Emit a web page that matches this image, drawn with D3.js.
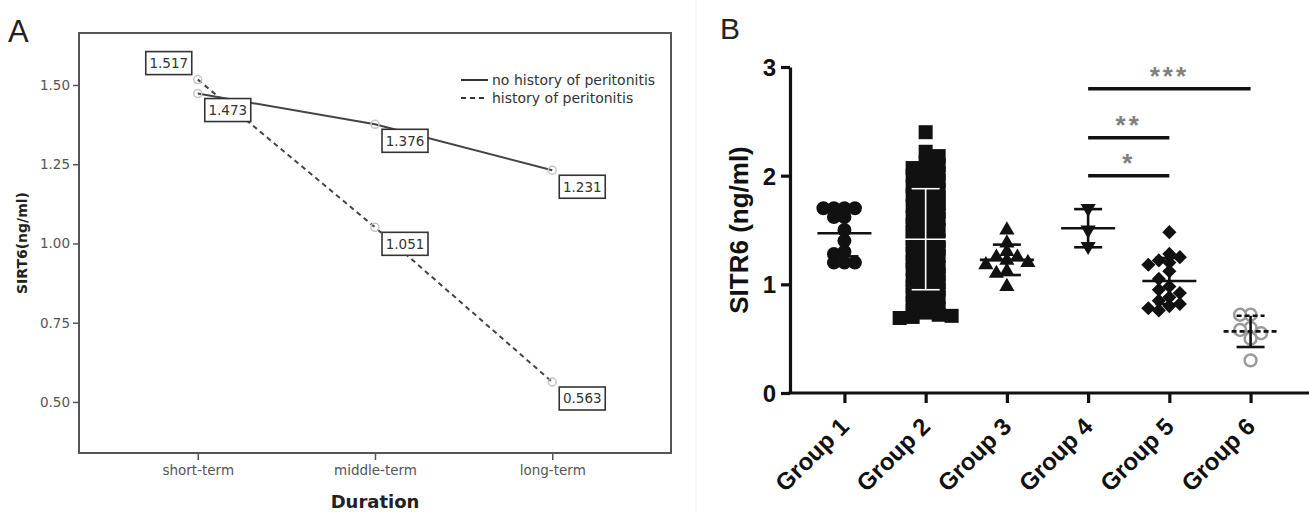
<!DOCTYPE html>
<html>
<head>
<meta charset="utf-8">
<script src="https://cdn.jsdelivr.net/npm/d3@7"></script>
<style>
  body { margin: 0; background: #fff; }
  svg { display: block; }
  .pa text { font-family: "DejaVu Sans", Verdana, sans-serif; }
  .pb text { font-family: Arial, "Liberation Sans", sans-serif; font-weight: bold; }
</style>
</head>
<body>
<svg id="chart" width="1309" height="512"></svg>
<script>
// Panel A: mean SIRT6 by dialysis duration
var durations = ["short-term", "middle-term", "long-term"];
var noHistory = [1.473, 1.376, 1.231];
var withHistory = [1.517, 1.051, 0.563];
var seriesNames = ["no history of peritonitis", "history of peritonitis"];
var ticksA = [0.50, 0.75, 1.00, 1.25, 1.50];

// Panel B: individual values per group
var groups = ["Group 1", "Group 2", "Group 3", "Group 4", "Group 5", "Group 6"];
var group1 = [1.70, 1.70, 1.70, 1.70, 1.62, 1.62, 1.50, 1.40, 1.30, 1.28, 1.20, 1.20, 1.20];
var group2 = [2.40, 2.22, 2.18, 2.12, 2.10, 2.07, 2.05, 2.02, 2.00, 1.98, 1.95, 1.92, 1.90,
  1.87, 1.84, 1.82, 1.80, 1.77, 1.74, 1.72, 1.70, 1.67, 1.64, 1.62, 1.60, 1.58, 1.55, 1.52,
  1.50, 1.48, 1.45, 1.42, 1.40, 1.38, 1.36, 1.33, 1.30, 1.28, 1.26, 1.24, 1.21, 1.18, 1.16,
  1.14, 1.12, 1.09, 1.06, 1.04, 1.02, 1.00, 0.98, 0.95, 0.92, 0.90, 0.88, 0.86, 0.83, 0.80,
  0.78, 0.76, 0.74, 0.72, 0.71, 0.70, 0.69];
var group3 = [1.50, 1.38, 1.30, 1.25, 1.25, 1.22, 1.20, 1.18, 1.12, 1.10, 0.98];
var group4 = [1.70, 1.50, 1.35];
var group5 = [1.48, 1.28, 1.25, 1.22, 1.20, 1.18, 1.12, 1.05, 0.98, 0.95, 0.92, 0.88, 0.85, 0.82, 0.80, 0.78, 0.76];
var group6 = [0.72, 0.72, 0.60, 0.58, 0.55, 0.50, 0.30];
var ticksB = [0, 1, 2, 3];

// significance brackets
var bracketFrom = ["Group 4", "Group 4", "Group 4"];
var bracketTo = ["Group 5", "Group 5", "Group 6"];
var bracketY = [2.0, 2.35, 2.8];
var bracketLabel = ["*", "**", "***"];

var svg = d3.select("#chart");

// faint seam between the two pictures
svg.append("line")
  .attr("x1", 696).attr("x2", 696).attr("y1", 0).attr("y2", 512)
  .attr("stroke", "#f0f0f0");

// ---------------- Panel A ----------------
var A = { left: 79, right: 671, top: 33, bottom: 453 };
var gA = svg.append("g").attr("class", "pa");

var xA = d3.scalePoint().domain(durations).range([A.left, A.right]).padding(0.67);
var yA = d3.scaleLinear().domain([0.339, 1.664]).range([A.bottom, A.top]);

gA.append("text").attr("x", 8).attr("y", 42)
  .style("font-family", "Arial, 'Liberation Sans', sans-serif")
  .attr("font-size", 31).attr("fill", "#222").text("A");

gA.append("rect")
  .attr("x", A.left).attr("y", A.top)
  .attr("width", A.right - A.left).attr("height", A.bottom - A.top)
  .attr("fill", "none").attr("stroke", "#555").attr("stroke-width", 2);

gA.append("g")
  .attr("transform", "translate(" + A.left + ",0)")
  .call(d3.axisLeft(yA).tickValues(ticksA).tickFormat(d3.format(".2f")).tickSize(6).tickPadding(3))
  .call(function(g) {
    g.select(".domain").remove();
    g.selectAll("line").attr("stroke", "#555").attr("stroke-width", 1.5);
    g.selectAll("text").attr("fill", "#555").attr("font-size", 13.5);
  });

gA.append("g")
  .attr("transform", "translate(0," + A.bottom + ")")
  .call(d3.axisBottom(xA).tickSize(7).tickPadding(5))
  .call(function(g) {
    g.select(".domain").remove();
    g.selectAll("line").attr("stroke", "#555").attr("stroke-width", 1.5);
    g.selectAll("text").attr("fill", "#555").attr("font-size", 13.5);
  });

gA.append("text")
  .attr("x", xA("middle-term")).attr("y", 508)
  .attr("text-anchor", "middle").attr("font-weight", "bold")
  .attr("font-size", 18).attr("fill", "#222").text("Duration");

gA.append("text")
  .attr("transform", "translate(27," + ((A.top + A.bottom) / 2) + ") rotate(-90)")
  .attr("text-anchor", "middle").attr("font-weight", "bold")
  .attr("font-size", 14).attr("fill", "#222").text("SIRT6(ng/ml)");

var seriesA = [
  { name: seriesNames[0], values: noHistory, dash: null },
  { name: seriesNames[1], values: withHistory, dash: "5,4" }
];

var lineA = d3.line()
  .x(function(d, i) { return xA(durations[i]); })
  .y(function(d) { return yA(d); });

seriesA.forEach(function(s) {
  gA.append("path")
    .attr("d", lineA(s.values))
    .attr("fill", "none").attr("stroke", "#444").attr("stroke-width", 2)
    .attr("stroke-dasharray", s.dash);
});

seriesA.forEach(function(s) {
  gA.selectAll(null).data(s.values).enter().append("circle")
    .attr("cx", function(d, i) { return xA(durations[i]); })
    .attr("cy", function(d) { return yA(d); })
    .attr("r", 4)
    .attr("fill", "none").attr("stroke", "#c4c4c4").attr("stroke-width", 1.5);
});

// value boxes; the upper of two close points gets its box above-left
var boxW = 46, boxH = 23;
seriesA.forEach(function(s, si) {
  var other = seriesA[1 - si].values;
  s.values.forEach(function(v, i) {
    var px = xA(durations[i]), py = yA(v);
    var flip = v > other[i] && v - other[i] < 0.1;
    var bx = flip ? px - 6 - boxW : px + 7;
    var by = flip ? py - 5 - boxH : py + 5;
    var lab = gA.append("g").attr("transform", "translate(" + bx + "," + by + ")");
    lab.append("rect").attr("width", boxW).attr("height", boxH)
      .attr("fill", "#fff").attr("stroke", "#333").attr("stroke-width", 1.6);
    lab.append("text").attr("x", boxW / 2).attr("y", boxH / 2).attr("dy", "0.36em")
      .attr("text-anchor", "middle").attr("font-size", 13.5).attr("fill", "#333")
      .text(d3.format(".3f")(v));
  });
});

var legend = gA.append("g").attr("transform", "translate(461,80)");
seriesA.forEach(function(s, i) {
  legend.append("line")
    .attr("x1", 0).attr("x2", 27).attr("y1", i * 18).attr("y2", i * 18)
    .attr("stroke", "#333").attr("stroke-width", 2).attr("stroke-dasharray", s.dash);
  legend.append("text")
    .attr("x", 31).attr("y", i * 18).attr("dy", "0.35em")
    .attr("font-size", 14).attr("fill", "#333").text(s.name);
});

// ---------------- Panel B ----------------
var B = { left: 790, right: 1309, top: 67, bottom: 393 };
var gB = svg.append("g").attr("class", "pb");

var xB = d3.scalePoint().domain(groups).range([B.left, 1305]).padding(0.67);
var yB = d3.scaleLinear().domain([0, 3]).range([B.bottom, B.top]);

gB.append("text").attr("x", 720).attr("y", 39)
  .style("font-weight", "normal")
  .attr("font-size", 30).attr("fill", "#222").text("B");

gB.append("g")
  .attr("transform", "translate(" + B.left + ",0)")
  .call(d3.axisLeft(yB).tickValues(ticksB).tickFormat(d3.format("d")).tickSize(9).tickSizeOuter(0).tickPadding(5))
  .call(function(g) {
    g.select(".domain").attr("stroke", "#111").attr("stroke-width", 3.2);
    g.selectAll("line").attr("stroke", "#111").attr("stroke-width", 3.2);
    g.selectAll("text").attr("fill", "#111").attr("font-size", 24).attr("dy", "0.36em");
  });

gB.append("g")
  .attr("transform", "translate(0," + B.bottom + ")")
  .call(d3.axisBottom(xB).tickSize(10).tickFormat(""))
  .call(function(g) {
    g.select(".domain").remove();
    g.selectAll("line").attr("stroke", "#111").attr("stroke-width", 3.2);
  });

gB.append("line")
  .attr("x1", B.left - 1.5).attr("x2", B.right).attr("y1", B.bottom).attr("y2", B.bottom)
  .attr("stroke", "#111").attr("stroke-width", 3.2);

gB.selectAll(".glabel").data(groups).enter().append("text")
  .attr("class", "glabel")
  .attr("transform", function(d) { return "translate(" + (xB(d) + 6) + ",428) rotate(-45)"; })
  .attr("text-anchor", "end").attr("font-size", 24).attr("fill", "#111")
  .text(function(d) { return d; });

gB.append("text")
  .attr("transform", "translate(748," + ((B.top + B.bottom) / 2) + ") rotate(-90)")
  .attr("text-anchor", "middle").attr("font-size", 26).attr("fill", "#111")
  .text("SITR6 (ng/ml)");

// marker styles per group (step = sideways spacing, tol = vertical overlap allowed)
var markers = [
  { type: d3.symbolCircle, size: 154, rot: 0, fill: "#111", stroke: "none", step: 10.5, tol: 8.4 },
  { type: d3.symbolSquare, size: 196, rot: 0, fill: "#111", stroke: "none", step: 13, tol: 6 },
  { type: d3.symbolTriangle, size: 100, rot: 0, fill: "#111", stroke: "none", step: 10.5, tol: 8.4 },
  { type: d3.symbolTriangle, size: 100, rot: 180, fill: "#111", stroke: "none", step: 10.5, tol: 8.4 },
  { type: d3.symbolSquare, size: 100, rot: 45, fill: "#111", stroke: "none", step: 10.5, tol: 8.4 },
  { type: d3.symbolCircle, size: 110, rot: 0, fill: "#fff", stroke: "#9a9a9a", step: 10.5, tol: 8.4 }
];
var groupValues = [group1, group2, group3, group4, group5, group6];

// simple column scatter: spread points sideways when they overlap
function swarm(values, step, tol) {
  var placed = [];
  values.slice().sort(function(a, b) { return b - a; }).forEach(function(v, n) {
    var y = yB(v), sign = n % 2 ? -1 : 1;
    for (var k = 0; k < 40; k++) {
      var off = (k % 2 ? sign : -sign) * Math.ceil(k / 2) * step;
      var hit = placed.some(function(p) {
        return Math.abs(p.dx - off) < step * 0.99 && Math.abs(p.y - y) < tol;
      });
      if (!hit) { placed.push({ v: v, y: y, dx: off }); break; }
    }
  });
  return placed;
}

groups.forEach(function(g, gi) {
  var m = markers[gi];
  var vals = groupValues[gi];
  var cx = xB(g);
  var pts = swarm(vals, m.step, m.tol);
  var sym = d3.symbol().type(m.type).size(m.size);
  gB.append("g").selectAll("path").data(pts).enter().append("path")
    .attr("d", sym)
    .attr("transform", function(p) { return "translate(" + (cx + p.dx) + "," + p.y + ") rotate(" + m.rot + ")"; })
    .attr("fill", m.fill).attr("stroke", m.stroke).attr("stroke-width", 2.5);

  // mean and SD bars
  var mean = d3.mean(vals), sd = d3.deviation(vals);
  var col = gi === 1 ? "#fff" : "#111";
  var bw = gi === 1 ? 1.6 : 2.6;
  var dash = gi === 5 ? "5,3" : null;
  var eb = gB.append("g").attr("stroke", col).attr("stroke-width", bw);
  eb.append("line").attr("x1", cx).attr("x2", cx).attr("y1", yB(mean + sd)).attr("y2", yB(mean - sd));
  eb.append("line").attr("x1", cx - 27).attr("x2", cx + 27).attr("y1", yB(mean)).attr("y2", yB(mean))
    .attr("stroke-dasharray", dash);
  eb.append("line").attr("x1", cx - 14).attr("x2", cx + 14).attr("y1", yB(mean + sd)).attr("y2", yB(mean + sd))
    .attr("stroke-dasharray", dash);
  eb.append("line").attr("x1", cx - 14).attr("x2", cx + 14).attr("y1", yB(mean - sd)).attr("y2", yB(mean - sd));
});

bracketY.forEach(function(v, i) {
  var x1 = xB(bracketFrom[i]), x2 = xB(bracketTo[i]);
  gB.append("line")
    .attr("x1", x1).attr("x2", x2).attr("y1", yB(v)).attr("y2", yB(v))
    .attr("stroke", "#111").attr("stroke-width", 3.5);
  gB.append("text")
    .attr("x", (x1 + x2) / 2).attr("y", yB(v) - 4)
    .attr("text-anchor", "middle").attr("font-size", 26).attr("fill", "#808080")
    .attr("letter-spacing", 3)
    .text(bracketLabel[i]);
});
</script>
</body>
</html>
